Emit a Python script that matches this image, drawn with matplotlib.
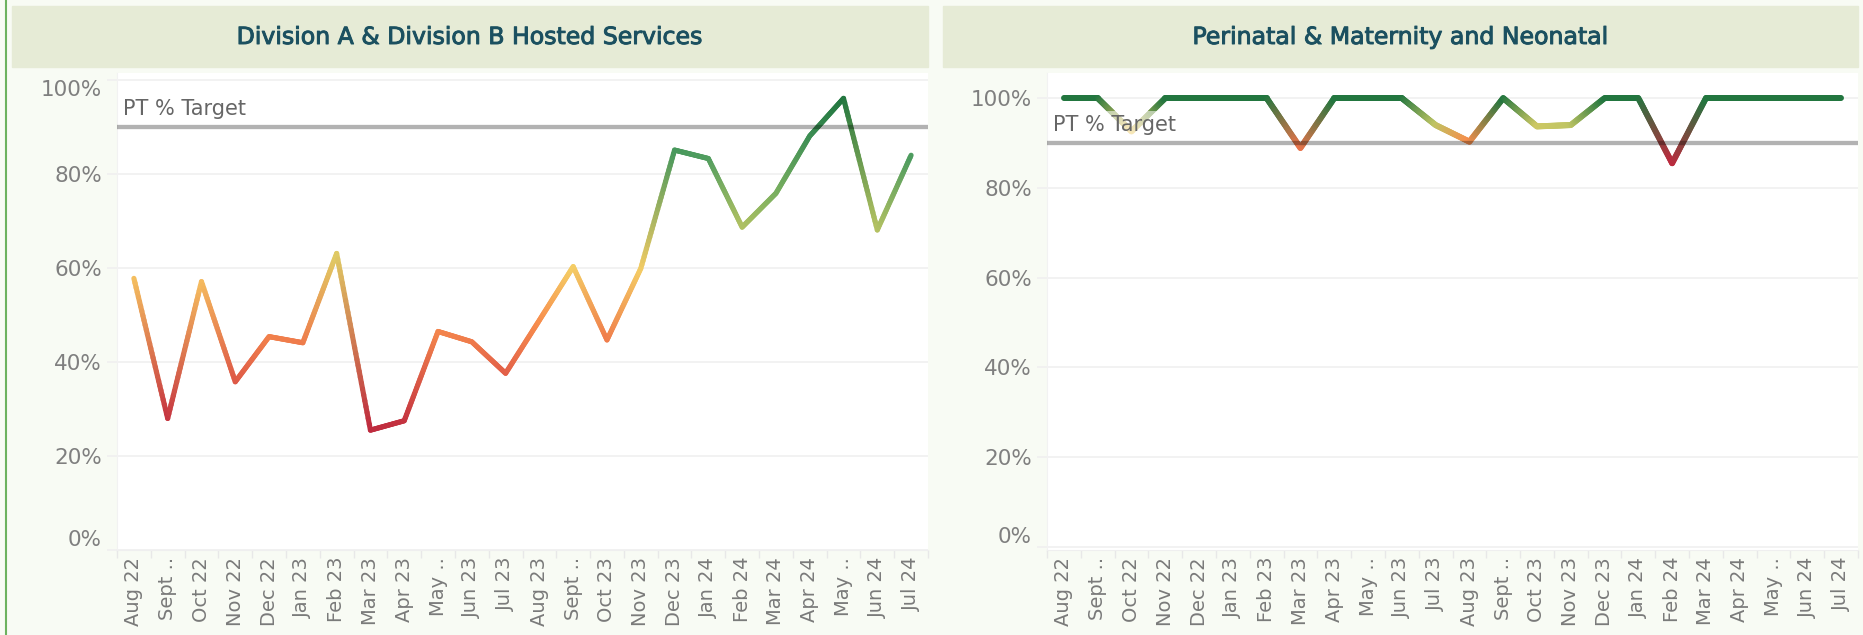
import numpy as np
import matplotlib
matplotlib.use('Agg')
import matplotlib.pyplot as plt
import matplotlib.patheffects as pe
from matplotlib.collections import LineCollection
from matplotlib.colors import LinearSegmentedColormap
from matplotlib.lines import Line2D
from matplotlib.patches import Rectangle

W, H = 1863, 635

months = ['Aug 22', 'Sept ..', 'Oct 22', 'Nov 22', 'Dec 22', 'Jan 23', 'Feb 23',
          'Mar 23', 'Apr 23', 'May ..', 'Jun 23', 'Jul 23', 'Aug 23', 'Sept ..',
          'Oct 23', 'Nov 23', 'Dec 23', 'Jan 24', 'Feb 24', 'Mar 24', 'Apr 24',
          'May ..', 'Jun 24', 'Jul 24']

# percent of patients treated
div_ab = [57.8, 28.0, 57.1, 35.8, 45.4, 44.1, 63.1, 25.5, 27.5, 46.5, 44.3, 37.6,
          48.9, 60.3, 44.7, 59.9, 85.1, 83.3, 68.7, 75.9, 88.1, 96.1, 68.1, 84.0]
perinatal = [100, 100, 92.6, 100, 100, 100, 100, 88.9, 100, 100, 100, 94.0,
             90.3, 100, 93.7, 94.0, 100, 100, 85.5, 100, 100, 100, 100, 100]

target = 90
y_ticks = [0, 20, 40, 60, 80, 100]
titles = ['Division A & Division B Hosted Services',
          'Perinatal & Maternity and Neonatal']

# tableau red-green-gold diverging
palette = ['#be2a3e', '#e25f48', '#f88f4d', '#f4d166', '#90b960', '#4b9b5f', '#22763f']
cmap = LinearSegmentedColormap.from_list('rgg', palette)

BG = '#f8fbf4'
BAND = '#e6ebd6'
TITLE_C = '#1b5060'
TICK_C = '#7f7f7f'
GRID_C = '#efefef'


def gradient_line(ax, x, y, lw):
    y = np.asarray(y, dtype=float)
    norm = plt.Normalize(y.min(), y.max())
    cols = cmap(norm(y))
    segs, seg_cols = [], []
    t = np.linspace(0, 1, 31)
    tm = (t[:-1] + t[1:]) / 2
    for i in range(len(x) - 1):
        xs = x[i] + (x[i + 1] - x[i]) * t
        ys = y[i] + (y[i + 1] - y[i]) * t
        pts = np.column_stack([xs, ys])
        segs.extend(np.stack([pts[:-1], pts[1:]], axis=1))
        c = cols[i][None, :] * (1 - tm[:, None]) + cols[i + 1][None, :] * tm[:, None]
        seg_cols.extend(c)
    lc = LineCollection(segs, colors=seg_cols, linewidths=lw,
                        capstyle='round', joinstyle='round', zorder=2)
    ax.add_collection(lc)


def draw_panel(ax, values, ylim, lw, clamp_top):
    x = np.arange(len(months))
    ax.set_facecolor('white')
    gradient_line(ax, x, values, lw)
    ax.axhline(target, color='black', alpha=0.3, lw=3.1, zorder=3)
    ax.annotate('PT % Target', xy=(0, target), xycoords=('axes fraction', 'data'),
                xytext=(4.3, 13), textcoords='offset points', ha='left', va='center',
                fontsize=15, color='#666666', zorder=4,
                bbox=dict(boxstyle='square,pad=0.2', fc='white', ec='none', alpha=0.55))

    ax.set_xlim(-0.5, len(months) - 0.5)
    ax.set_ylim(*ylim)
    ax.set_xticks(x, months, rotation=90)
    ax.set_xticks(np.arange(-0.5, len(months), 1), minor=True)
    ax.tick_params(axis='x', which='major', length=0, pad=5, labelsize=14,
                   labelcolor='#7a7a7a')
    ax.tick_params(axis='x', which='minor', length=6, color='#e8e8e8', width=1)

    ax.set_yticks(y_ticks, [f'{v}%' for v in y_ticks])
    ax.tick_params(axis='y', length=7.2, color=GRID_C, width=1.1, pad=3.6,
                   labelsize=15.5, labelcolor=TICK_C)
    labels = ax.get_yticklabels()
    labels[0].set_va('bottom')
    if clamp_top:
        labels[-1].set_va('top')

    ax.yaxis.grid(True, color=GRID_C, lw=1.1)
    ax.set_axisbelow(True)
    for s in ['top', 'right']:
        ax.spines[s].set_visible(False)
    ax.spines['left'].set_color('#f2f2f2')
    ax.spines['bottom'].set_color(GRID_C)


fig = plt.figure(figsize=(W / 100, H / 100), dpi=100, facecolor=BG)

# title bands
bands = [(12, 928), (943, 1858)]
for (x0, x1), title in zip(bands, titles):
    fig.patches.append(Rectangle((x0 / W, 1 - 67 / H), (x1 - x0) / W, 61 / H,
                                 transform=fig.transFigure, color=BAND, zorder=0))
    fig.text((x0 + x1) / 2 / W, 1 - 37 / H, title, ha='center', va='center',
             fontsize=17, color=TITLE_C,
             path_effects=[pe.withStroke(linewidth=0.7, foreground=TITLE_C)])

fig.add_artist(Line2D([6 / W, 6 / W], [0, 1], color='#6db25f', lw=1.5))

ax1 = fig.add_axes([117 / W, 85 / H, 811 / W, 477 / H])
draw_panel(ax1, div_ab, (0, 101.5), 3.7, True)

ax2 = fig.add_axes([1047 / W, 85 / H, 811 / W, 477 / H])
draw_panel(ax2, perinatal, (-0.7, 105.6), 4.3, False)

fig.savefig('out.png', dpi=100, facecolor=BG)
